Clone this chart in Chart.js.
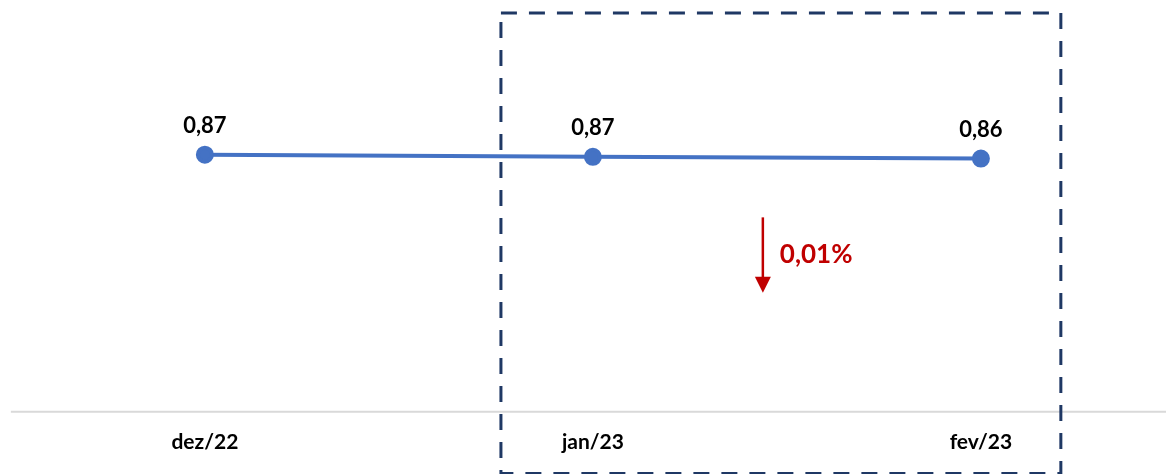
<!DOCTYPE html>
<html>
<head>
<meta charset="utf-8">
<script src="https://cdn.jsdelivr.net/npm/chart.js@4.4.0/dist/chart.umd.min.js"></script>
<style>
  body { margin: 0; background: #fff; overflow: hidden; }
  #wrap { width: 1166px; height: 474px; }
</style>
</head>
<body>
<div id="wrap"><canvas id="graf" width="1166" height="474"></canvas></div>
<script>
// Dados do gráfico
const meses = ['dez/22', 'jan/23', 'fev/23'];
const valores = [0.874, 0.867, 0.861];
const variacao = '0,01%';

const FONTE = 'Lato, "Open Sans", sans-serif';

// rótulos de valor acima dos pontos + anotações (caixa tracejada e seta)
const extras = {
    id: 'extras',
    beforeDatasetsDraw(chart) {
        const ctx = chart.ctx;
        const x = chart.scales.x, y = chart.scales.y;
        // linha de base
        ctx.save();
        ctx.strokeStyle = '#d9d9d9';
        ctx.lineWidth = 2;
        ctx.beginPath();
        ctx.moveTo(x.getPixelForValue(-0.5), y.getPixelForValue(0));
        ctx.lineTo(chart.width, y.getPixelForValue(0));
        ctx.stroke();
        ctx.restore();
    },
    afterDatasetsDraw(chart) {
        const ctx = chart.ctx;
        const x = chart.scales.x, y = chart.scales.y;
        const meta = chart.getDatasetMeta(0);

        ctx.save();
        ctx.fillStyle = '#000';
        ctx.font = 'bold 22px ' + FONTE;
        ctx.textAlign = 'center';
        ctx.textBaseline = 'middle';
        meta.data.forEach((p, i) => {
            ctx.fillText(valores[i].toFixed(2).replace('.', ','), p.x, p.y - 29);
        });

        // caixa tracejada
        const l = x.getPixelForValue(0.763), r = x.getPixelForValue(2.206);
        const t = y.getPixelForValue(1.356), b = y.getPixelForValue(-0.21);
        ctx.strokeStyle = '#1f3864';
        ctx.lineWidth = 3;
        ctx.setLineDash([16, 12]);
        ctx.strokeRect(l, t, r - l, b - t);
        ctx.setLineDash([]);

        // seta de variação
        const ax = x.getPixelForValue(1.438);
        const a1 = y.getPixelForValue(0.661), a2 = y.getPixelForValue(0.405);
        ctx.strokeStyle = '#c00000';
        ctx.fillStyle = '#c00000';
        ctx.lineWidth = 2.5;
        ctx.beginPath();
        ctx.moveTo(ax, a1);
        ctx.lineTo(ax, a2 - 14);
        ctx.stroke();
        ctx.beginPath();
        ctx.moveTo(ax - 8, a2 - 16);
        ctx.lineTo(ax + 8, a2 - 16);
        ctx.lineTo(ax, a2);
        ctx.closePath();
        ctx.fill();

        ctx.font = 'bold 26px ' + FONTE;
        ctx.textAlign = 'left';
        ctx.fillText(variacao, ax + 17, y.getPixelForValue(0.533));
        ctx.restore();
    }
};

const ctx = document.getElementById('graf').getContext('2d');
const chart = new Chart(ctx, {
    type: 'line',
    data: {
        datasets: [{
            data: valores.map((v, i) => ({ x: i, y: v })),
            borderColor: '#4472c4',
            backgroundColor: '#4472c4',
            borderWidth: 4,
            pointRadius: 7,
            pointHoverRadius: 7,
            fill: false,
            tension: 0,
            clip: false
        }]
    },
    options: {
        responsive: false,
        animation: false,
        devicePixelRatio: 1,
        layout: { autoPadding: false, padding: { top: 0, bottom: 1, left: 0, right: 0 } },
        plugins: { legend: { display: false }, tooltip: { enabled: false } },
        scales: {
            x: {
                type: 'linear',
                min: -0.528,
                max: 2.477,
                afterBuildTicks: s => { s.ticks = meses.map((m, i) => ({ value: i })); },
                afterFit: s => { s.paddingLeft = 0; s.paddingRight = 0; },
                ticks: {
                    callback: v => meses[v],
                    color: '#000',
                    font: { family: FONTE, size: 21, weight: 'bold' },
                    padding: 18,
                    maxRotation: 0
                },
                grid: { display: false, drawTicks: false },
                border: { display: false }
            },
            y: {
                display: false,
                min: 0,
                max: 1.4
            }
        }
    },
    plugins: [extras]
});
</script>
</body>
</html>
